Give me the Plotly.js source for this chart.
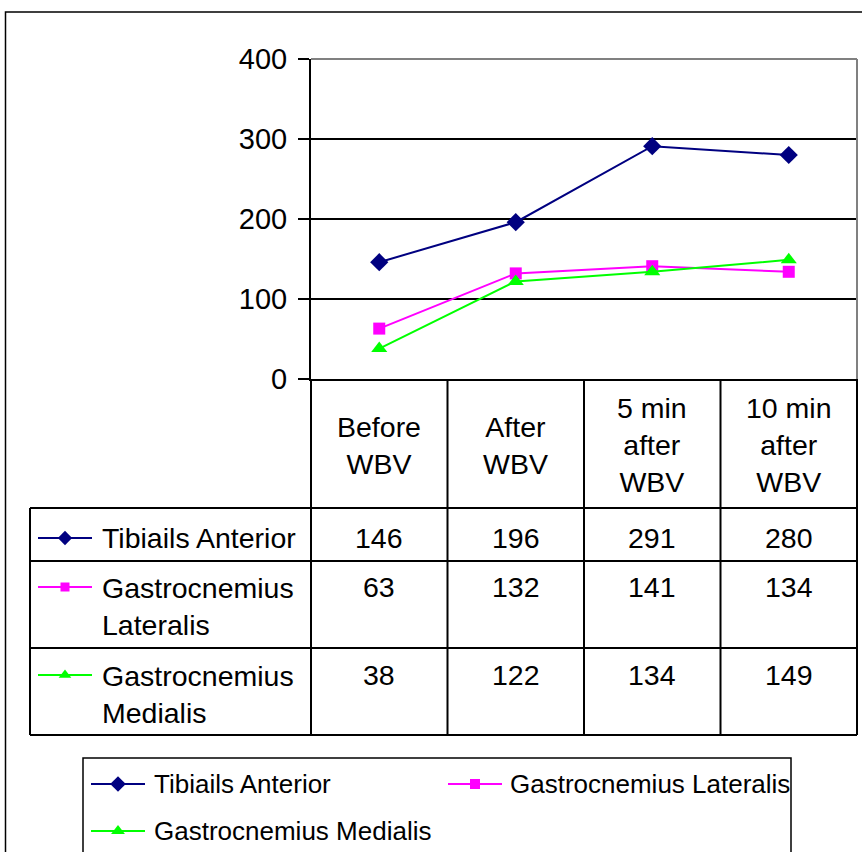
<!DOCTYPE html>
<html>
<head>
<meta charset="utf-8">
<script src="https://cdn.plot.ly/plotly-3.0.1.min.js"></script>
<style>html,body{margin:0;padding:0;background:#fff;}#chart{width:862px;height:852px;}</style>
</head>
<body>
<div id="chart"></div>
<script>
// ---- data ----
const categories = ["Before WBV", "After WBV", "5 min after WBV", "10 min after WBV"];
const headerLabels = ["Before<br>WBV", "After<br>WBV", "5 min<br>after<br>WBV", "10 min<br>after<br>WBV"];
const seriesNames = ["Tibiails Anterior", "Gastrocnemius Lateralis", "Gastrocnemius Medialis"];
const rowLabels = ["Tibiails Anterior", "Gastrocnemius<br>Lateralis", "Gastrocnemius<br>Medialis"];
const tibialisAnterior = [146, 196, 291, 280];
const gastrocLateralis = [63, 132, 141, 134];
const gastrocMedialis = [38, 122, 134, 149];
const yTicks = [0, 100, 200, 300, 400];

// ---- styling / layout geometry (pixels) ----
const W = 862, H = 852;
const px = x => x / W;
const py = y => 1 - y / H;
const FONT = "Liberation Sans, Arial, sans-serif";
const colors = ["#000080", "#FF00FF", "#00FF00"];
const symbols = ["diamond", "square", "triangle-up"];
const plotSizes = [14, 12, 14];
const keySizes = [11, 9, 11];
const legSizes = [12, 10, 12];
const seriesValues = [tibialisAnterior, gastrocLateralis, gastrocMedialis];

const plotL = 311, plotR = 857, plotT = 59, plotB = 379;
const tableLeft = 30, tableBottom = 735;
const rowTops = [508, 561, 648];
const firstLineY = [538, 587, 675];
const labelCenterY = [538, 606, 694];

const traces = [];
seriesValues.forEach((vals, i) => {
  traces.push({
    type: "scatter", mode: "lines+markers", name: seriesNames[i],
    x: categories, y: vals, cliponaxis: false, showlegend: false,
    line: {color: colors[i], width: 2},
    marker: {symbol: symbols[i], size: plotSizes[i], color: colors[i]},
    hoverinfo: "skip"
  });
});

// legend keys (overlay pixel axis)
function key(xc, y, i, size) {
  traces.push({type: "scatter", mode: "lines", x: [xc - 27, xc + 27], y: [y, y], xaxis: "x2", yaxis: "y2",
    line: {color: colors[i], width: 2}, showlegend: false, hoverinfo: "skip", cliponaxis: false});
  traces.push({type: "scatter", mode: "markers", x: [xc], y: [y], xaxis: "x2", yaxis: "y2",
    marker: {symbol: symbols[i], size: size, color: colors[i]}, showlegend: false, hoverinfo: "skip", cliponaxis: false});
}
firstLineY.forEach((y, i) => key(65, y, i, keySizes[i]));
const legendPos = [[118, 784], [475, 784], [118, 831]];
const legendTextX = [152, 508, 152];
legendPos.forEach((p, i) => key(p[0], p[1], i, legSizes[i]));

const annotations = [];
const tfont = {family: FONT, size: 28.5, color: "#000"};
categories.forEach((c, i) => {
  annotations.push({x: c, xref: "x", xanchor: "center", y: py(445), yref: "paper", yanchor: "middle",
    text: headerLabels[i], showarrow: false, font: tfont, align: "center"});
});
seriesValues.forEach((vals, r) => {
  annotations.push({x: px(100), xref: "paper", xanchor: "left", y: py(labelCenterY[r]), yref: "paper", yanchor: "middle",
    text: rowLabels[r], showarrow: false, align: "left", font: tfont});
  vals.forEach((v, i) => {
    annotations.push({x: categories[i], xref: "x", xanchor: "center", y: py(firstLineY[r]), yref: "paper", yanchor: "middle",
      text: String(v), showarrow: false, font: tfont});
  });
});
legendPos.forEach((p, i) => {
  annotations.push({x: px(legendTextX[i]), xref: "paper", xanchor: "left", y: py(p[1]), yref: "paper", yanchor: "middle",
    text: seriesNames[i], showarrow: false, font: {family: FONT, size: 26, color: "#000"}});
});

const shapes = [];
const blk = {color: "#000", width: 2};
// outer chart frame
shapes.push({type: "rect", xref: "paper", yref: "paper", x0: px(5.5), x1: px(875), y0: py(12), y1: py(880), line: {color: "#000", width: 1.5}});
// plot area top/right gray border
shapes.push({type: "line", xref: "paper", yref: "paper", x0: px(plotL), x1: px(plotR), y0: py(plotT), y1: py(plotT), line: {color: "#808080", width: 2}});
shapes.push({type: "line", xref: "paper", yref: "paper", x0: px(plotR), x1: px(plotR), y0: py(plotB), y1: py(plotT), line: {color: "#808080", width: 2}});
// table vertical lines at category boundaries (from the x axis domain)
const colW = (plotR - plotL) / categories.length;
for (let k = 0; k <= categories.length; k++) {
  const xx = px(plotL + k * colW);
  shapes.push({type: "line", xref: "paper", yref: "paper", x0: xx, x1: xx, y0: py(plotB), y1: py(tableBottom), line: blk});
}
// table left border
shapes.push({type: "line", xref: "paper", yref: "paper", x0: px(tableLeft), x1: px(tableLeft), y0: py(rowTops[0]), y1: py(tableBottom), line: blk});
// table horizontal lines
rowTops.concat([tableBottom]).forEach(y => {
  shapes.push({type: "line", xref: "paper", yref: "paper", x0: px(tableLeft), x1: px(plotR), y0: py(y), y1: py(y), line: blk});
});
// legend box
shapes.push({type: "rect", xref: "paper", yref: "paper", x0: px(83), x1: px(791), y0: py(758), y1: py(880), line: {color: "#000", width: 1.5}});

const layout = {
  width: W, height: H,
  margin: {l: 0, r: 0, t: 0, b: 0},
  paper_bgcolor: "#fff", plot_bgcolor: "rgba(0,0,0,0)",
  showlegend: false,
  font: {family: FONT, size: 28, color: "#000"},
  xaxis: {domain: [px(plotL), px(plotR)], type: "category", categoryarray: categories, range: [-0.5, categories.length - 0.5],
    showline: true, linecolor: "#000", linewidth: 2, showticklabels: false, ticks: "", showgrid: false, zeroline: false, fixedrange: true},
  yaxis: {domain: [py(plotB), py(plotT)], range: [0, 400], tickvals: yTicks, ticktext: yTicks.map(String),
    ticks: "outside", ticklen: 11, tickwidth: 2, tickcolor: "#000", ticklabelstandoff: 5,
    showline: true, linecolor: "#000", linewidth: 2, showgrid: true, gridcolor: "#000", gridwidth: 2,
    zeroline: false, tickfont: {family: FONT, size: 29, color: "#000"}, fixedrange: true},
  xaxis2: {domain: [0, 1], range: [0, W], visible: false, anchor: "y2", fixedrange: true},
  yaxis2: {domain: [0, 1], range: [H, 0], visible: false, anchor: "x2", fixedrange: true},
  annotations: annotations,
  shapes: shapes
};

Plotly.newPlot("chart", traces, layout, {staticPlot: true, displayModeBar: false});
</script>
</body>
</html>
